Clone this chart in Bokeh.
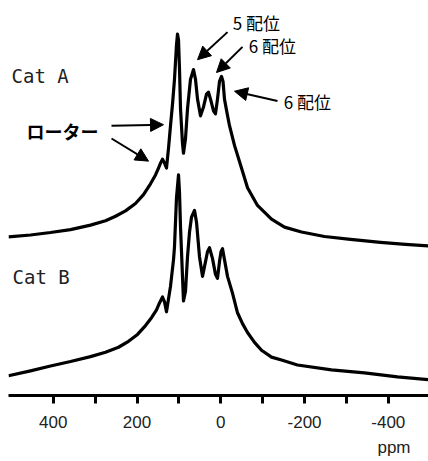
from bokeh.plotting import figure
from bokeh.models import Range1d, FixedTicker, Label, Arrow, NormalHead, ColumnDataSource, Title
from bokeh.embed import file_html
from bokeh.resources import INLINE

# ---- data (ppm, intensity) ----
ppm_a = [507, 454.4, 406.6, 358.9, 311.1, 275.3, 251.4, 227.6, 203.7, 184.6, 167.9, 155.9,
         148.8, 144.0, 139.2, 134.4, 129.7, 124.9, 120.1, 115.3, 110.6, 105.8, 103.4, 101.0,
         98.6, 96.2, 91.5, 89.1, 84.3, 79.5, 72.4, 65.2, 60.4, 55.6, 48.5, 41.3, 34.1, 29.4,
         24.6, 17.4, 12.7, 7.9, 3.1, -1.7, -5.3, -8.8, -14.8, -20.8, -32.7, -49.4, -63.8,
         -87.6, -121.1, -152.1, -192.7, -247.6, -309.7, -381.3, -441.0, -495.9]
int_a = [19, 21, 23.5, 26.5, 31, 35.5, 40, 45.5, 53, 62, 73, 82,
         89, 94, 98, 94, 89, 109, 132, 154, 179, 214, 225, 219,
         189, 149, 114, 104, 119, 149, 179, 189, 179, 159, 142, 151, 164, 166,
         159, 147, 144, 159, 177, 182, 177, 159, 145, 132, 112, 89, 69,
         51, 37, 29, 24, 19.5, 16.5, 13.5, 11.5, 10]

ppm_b = [507, 454.4, 406.6, 358.9, 311.1, 275.3, 244.3, 220.4, 198.9, 179.8, 165.5, 153.5,
         146.4, 139.2, 134.4, 129.7, 120.1, 112.9, 110.6, 105.8, 101.0, 98.6, 96.2, 91.5,
         89.1, 84.3, 79.5, 74.7, 70.0, 62.8, 58.0, 50.9, 43.7, 36.5, 31.8, 27.0, 19.8,
         12.7, 7.9, 3.1, -0.5, -4.1, -8.8, -16.0, -27.9, -39.9, -51.8, -63.8, -80.5,
         -97.2, -121.1, -145.0, -183.1, -264.3, -343.1, -421.9, -495.9]
int_b = [20, 25, 30, 34.5, 39.5, 44, 49, 55, 62, 71, 79, 87,
         94, 100, 95, 85, 111, 138, 151, 201, 224, 206, 171, 121,
         96, 106, 141, 166, 181, 188, 176, 141, 121, 136, 146, 150, 139,
         123, 119, 136, 146, 149, 138, 121, 104, 84, 73, 64, 54,
         46, 39, 36, 31, 26, 23, 19, 16]

offset_a = 142
offset_b = 0

series_names = ["Cat A", "Cat B"]
tick_major = [400, 200, 0, -200, -400]
tick_minor = [300, 100, -100, -300]
tick_labels = {400: "400", 200: "200", 0: "0", -200: "-200", -400: "-400"}

# annotation texts
peak_texts = ["5 配位", "6 配位", "6 配位"]
peak_text_x = [-85.2, -123.4, -207.0]
peak_text_y = [378.5, 355.5, 298.5]
rotor_text = "ローター"
rotor_x, rotor_y = 378.0, 268.5
cat_x = [499.8, 497.4]
cat_y = [324, 120]

# arrows: tail (x0,y0) -> tip (x1,y1)
arr_x0 = [261.0, 261.0, -16.0, -51.8, -135.4]
arr_y0 = [274, 261, 369, 354, 299]
arr_x1 = [136.8, 172.6, 55.6, 10.3, -32.7]
arr_y1 = [275, 238, 341, 328, 309]

p = figure(width=428, height=461, output_backend="svg", toolbar_location=None,
           x_range=Range1d(507, -496), y_range=Range1d(0, 393),
           min_border_left=8, min_border_right=0, min_border_top=8, min_border_bottom=60)
p.outline_line_color = None
p.grid.visible = False
p.yaxis.visible = False
p.background_fill_color = "white"
p.border_fill_color = "white"

src_a = ColumnDataSource(dict(x=ppm_a, y=[v + offset_a for v in int_a]))
src_b = ColumnDataSource(dict(x=ppm_b, y=[v + offset_b for v in int_b]))
p.line("x", "y", source=src_a, line_color="black", line_width=3.2, line_join="round")
p.line("x", "y", source=src_b, line_color="black", line_width=3.2, line_join="round")

ax = p.xaxis[0]
ax.ticker = FixedTicker(ticks=tick_major, minor_ticks=tick_minor)
ax.major_label_overrides = tick_labels
ax.axis_line_width = 3
ax.axis_line_color = "black"
ax.major_tick_line_width = 3
ax.minor_tick_line_width = 3
ax.major_tick_in = 0
ax.major_tick_out = 8
ax.minor_tick_in = 0
ax.minor_tick_out = 8
ax.major_label_standoff = 12
ax.major_label_text_font = "Liberation Sans"
ax.major_label_text_font_size = "17px"
ax.major_label_text_color = "#222222"

p.add_layout(Title(text="ppm", align="right", offset=18, text_font="Liberation Sans",
                   text_font_size="17px", text_font_style="normal", text_color="#222222"), "below")

for name, xx, yy in zip(series_names, cat_x, cat_y):
    p.add_layout(Label(x=xx, y=yy, text=name, text_align="left", text_baseline="alphabetic",
                       text_font="DejaVu Sans Mono", text_font_size="19px", text_color="#222222"))

p.add_layout(Label(x=rotor_x, y=rotor_y, text=rotor_text, text_align="center", text_baseline="middle",
                   text_font="Noto Sans CJK JP", text_font_size="18px", text_font_style="bold",
                   text_color="black"))
for t, xx, yy in zip(peak_texts, peak_text_x, peak_text_y):
    p.add_layout(Label(x=xx, y=yy, text=t, text_align="center", text_baseline="middle",
                       text_font="Noto Sans CJK JP", text_font_size="17px", text_color="black"))

for x0, y0, x1, y1 in zip(arr_x0, arr_y0, arr_x1, arr_y1):
    p.add_layout(Arrow(end=NormalHead(size=13, fill_color="black", line_color="black", line_width=1),
                       x_start=x0, y_start=y0, x_end=x1, y_end=y1,
                       line_color="black", line_width=2))

open("out.html", "w").write(file_html(p, INLINE))
